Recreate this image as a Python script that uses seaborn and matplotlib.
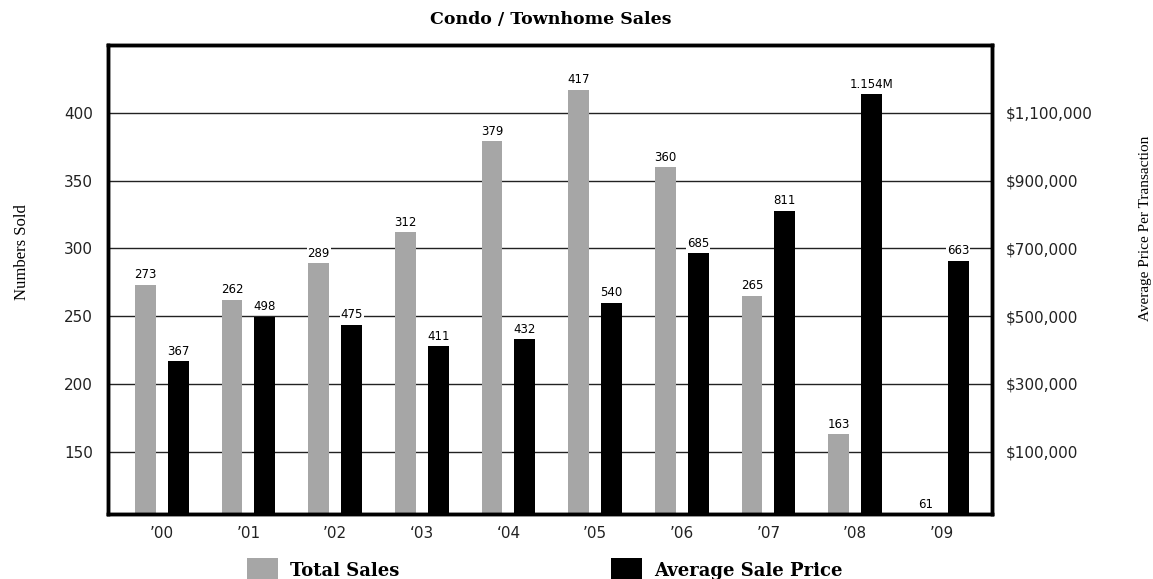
import numpy as np
import pandas as pd
import matplotlib
matplotlib.use("Agg")
import matplotlib.pyplot as plt
from matplotlib.patches import Patch
from matplotlib.ticker import FuncFormatter
import seaborn as sns

# ---- data -------------------------------------------------------------
years = ["’00", "’01", "’02", "‘03", "‘04", "’05", "’06", "’07", "’08", "’09"]
total_sales = [273, 262, 289, 312, 379, 417, 360, 265, 163, 61]
avg_price = [367000, 498000, 475000, 411000, 432000, 540000, 685000, 811000, 1154000, 663000]

series_order = ["Total Sales", "Average Sale Price"]
palette = {"Total Sales": "#a6a6a6", "Average Sale Price": "#000000"}

sales_ticks = [150, 200, 250, 300, 350, 400]
price_ticks = [100000, 300000, 500000, 700000, 900000, 1100000]

# ---- style ------------------------------------------------------------
sns.set_style("white")
plt.rcParams["font.family"] = ["DejaVu Sans"]
plt.rcParams["text.color"] = "black"

fig = plt.figure(figsize=(11.53, 5.79), dpi=100)
ax1 = fig.add_axes([108 / 1153, 65 / 579, 884 / 1153, 469 / 579])
ax2 = ax1.twinx()

sales_df = pd.DataFrame({"year": years, "series": "Total Sales", "value": total_sales})
price_df = pd.DataFrame({"year": years, "series": "Average Sale Price", "value": avg_price})

common = dict(x="year", y="value", hue="series", hue_order=series_order,
              order=years, palette=palette, saturation=1, width=0.76, gap=0.37,
              dodge=True, legend=False, linewidth=0)
sns.barplot(data=sales_df, ax=ax1, **common)
sns.barplot(data=price_df, ax=ax2, **common)

# ---- axes -------------------------------------------------------------
ax1.set_xlim(-0.62, 9.58)
ax1.set_ylim(104, 450)
ax2.set_ylim(-84000, 1300000)
ax1.set_yticks(sales_ticks)
ax2.set_yticks(price_ticks)
ax2.yaxis.set_major_formatter(FuncFormatter(lambda v, _: f"${v:,.0f}"))

# bars rise from the floor of each value axis
for ax in (ax1, ax2):
    floor = ax.get_ylim()[0]
    for p in ax.patches:
        top = p.get_y() + p.get_height()
        p.set_y(floor)
        p.set_height(top - floor)

ax1.set_axisbelow(True)
ax1.yaxis.grid(True, color="#222222", linewidth=1)
ax1.xaxis.grid(False)
ax2.grid(False)

ax1.tick_params(axis="y", length=0, pad=11, labelsize=11, labelcolor="#222222")
ax1.tick_params(axis="x", length=0, pad=9, labelsize=11, labelcolor="#222222")
ax2.tick_params(axis="y", length=0, pad=10, labelsize=11, labelcolor="#222222")
ax1.set_xlabel("")
ax1.set_ylabel("")
ax2.set_ylabel("")

for ax in (ax1, ax2):
    for sp in ax.spines.values():
        sp.set_visible(True)
        sp.set_color("black")
        sp.set_linewidth(2.5)

# ---- value labels -------------------------------------------------------
def label_bars(ax, values, fmt):
    lo = ax.get_ylim()[0]
    bars = sorted((p for p in ax.patches if p.get_width() > 0), key=lambda p: p.get_x())
    for p, v in zip(bars, values):
        x = p.get_x() + p.get_width() / 2
        ax.annotate(fmt(v), xy=(x, max(v, lo)), xytext=(0, 2.5),
                    textcoords="offset points", ha="center", va="bottom",
                    fontsize=8.5, color="black",
                    bbox=dict(facecolor="white", edgecolor="none", pad=0.6),
                    annotation_clip=False, zorder=5)

label_bars(ax1, total_sales, lambda v: f"{v:.0f}")
label_bars(ax2, avg_price, lambda v: f"{v / 1e6:.3f}M" if v >= 1e6 else f"{v / 1000:.0f}")

# ---- titles ---------------------------------------------------------------
fig.text(551 / 1153, 1 - 20 / 579, "Condo / Townhome Sales", ha="center", va="center",
         fontsize=12.5, fontweight="bold", family="DejaVu Serif", color="black")
fig.text(22 / 1153, 1 - 252 / 579, "Numbers Sold", rotation=90, ha="center", va="center",
         fontsize=12, family="Liberation Serif", color="black")
fig.text(1145 / 1153, 1 - 228 / 579, "Average Price Per Transaction", rotation=90,
         ha="center", va="center", fontsize=11, family="Liberation Serif", color="black")

# ---- legend ---------------------------------------------------------------
handles = [Patch(facecolor=palette[s], edgecolor="none") for s in series_order]
leg = fig.legend(handles, series_order, loc="center left",
                 bbox_to_anchor=(247 / 1153, 1 - 570 / 579), ncol=2, frameon=False,
                 prop=dict(family="DejaVu Serif", weight="bold", size=13),
                 handlelength=1.7, handleheight=1.7, handletextpad=0.7,
                 columnspacing=11.7, borderpad=0, borderaxespad=0)
for t in leg.get_texts():
    t.set_color("black")

fig.savefig("out.png", dpi=100)
